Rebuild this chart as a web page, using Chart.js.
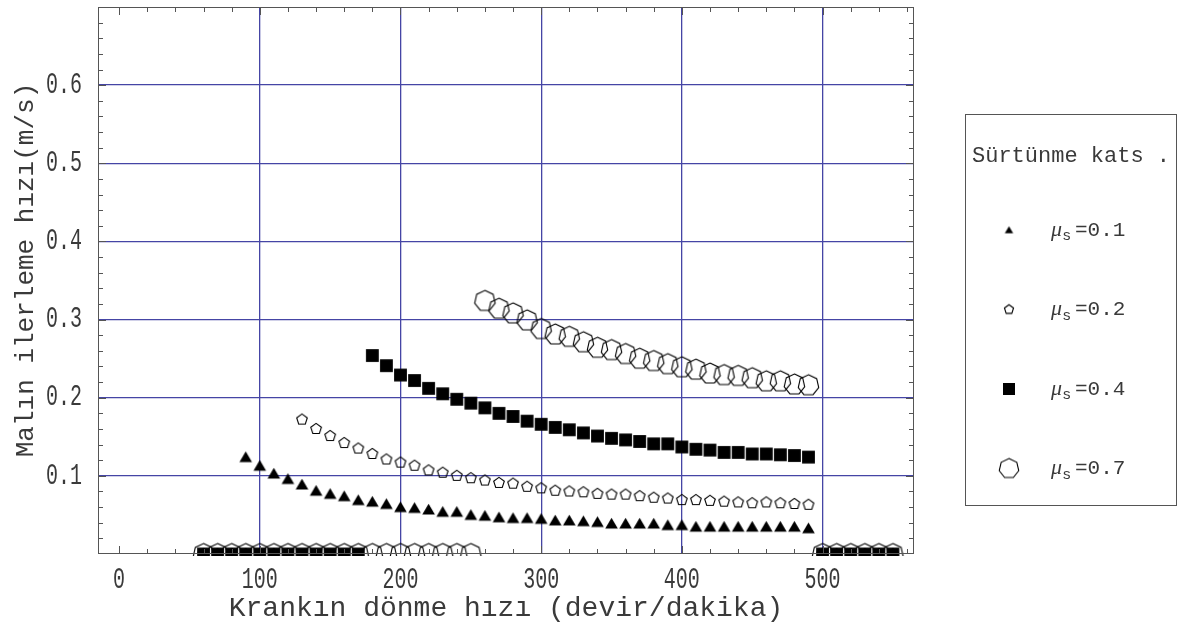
<!DOCTYPE html>
<html>
<head>
<meta charset="utf-8">
<script src="https://cdn.jsdelivr.net/npm/chart.js@4.4.1/dist/chart.umd.min.js"></script>
<style>
  html, body { margin: 0; padding: 0; background: #fff; }
  canvas { display: block; }
</style>
</head>
<body>
<canvas id="chart" width="1179" height="632"></canvas>
<script>
// krank devri (devir/dakika)
const rpm = [60, 70, 80, 90, 100, 110, 120, 130, 140, 150, 160, 170, 180, 190, 200, 210, 220, 230, 240, 250,
  260, 270, 280, 290, 300, 310, 320, 330, 340, 350, 360, 370, 380, 390, 400, 410, 420, 430, 440, 450,
  460, 470, 480, 490, 500, 510, 520, 530, 540, 550]

// malin ilerleme hizi (m/s), one per friction coefficient
const hizMu01 = [0, 0, 0, 0.124, 0.113, 0.103, 0.096, 0.089, 0.081, 0.077, 0.074, 0.069, 0.067, 0.064, 0.060, 0.059, 0.057, 0.054, 0.054, 0.050,
  0.049, 0.047, 0.046, 0.046, 0.045, 0.043, 0.043, 0.042, 0.041, 0.039, 0.039, 0.039, 0.039, 0.037, 0.037, 0.035, 0.035, 0.035, 0.035, 0.035,
  0.035, 0.035, 0.035, 0.033, 0, 0, 0, 0, 0, 0]
const hizMu02 = [0, 0, 0, 0, 0, 0, 0, 0.172, 0.160, 0.151, 0.142, 0.135, 0.128, 0.121, 0.117, 0.113, 0.107, 0.104, 0.100, 0.097,
  0.094, 0.091, 0.090, 0.086, 0.084, 0.081, 0.080, 0.079, 0.077, 0.076, 0.076, 0.074, 0.072, 0.071, 0.069, 0.069, 0.068, 0.067, 0.066, 0.065,
  0.066, 0.065, 0.064, 0.063, 0, 0, 0, 0, 0, 0]
const hizMu04 = [0, 0, 0, 0, 0, 0, 0, 0, 0, 0, 0, 0, 0.254, 0.241, 0.229, 0.222, 0.212, 0.205, 0.198, 0.193,
  0.187, 0.180, 0.176, 0.170, 0.166, 0.162, 0.159, 0.155, 0.151, 0.148, 0.146, 0.144, 0.141, 0.141, 0.137, 0.134, 0.133, 0.130, 0.130, 0.128,
  0.128, 0.127, 0.126, 0.124, 0, 0, 0, 0, 0, 0]
const hizMu07 = [0, 0, 0, 0, 0, 0, 0, 0, 0, 0, 0, 0, 0, 0, 0, 0, 0, 0, 0, 0,
  0.324, 0.314, 0.308, 0.299, 0.288, 0.281, 0.278, 0.271, 0.264, 0.261, 0.256, 0.250, 0.247, 0.243, 0.239, 0.236, 0.231, 0.229, 0.228, 0.225,
  0.221, 0.221, 0.217, 0.216, 0, 0, 0, 0, 0, 0]

const muLabels = ['0.1', '0.2', '0.4', '0.7']
const xTickLabels = [0, 100, 200, 300, 400, 500]
const yTickLabels = [0.1, 0.2, 0.3, 0.4, 0.5, 0.6]
const xGrid = [100, 200, 300, 400, 500]
const yGrid = [0.1, 0.2, 0.3, 0.4, 0.5, 0.6]

const FONT = '"Liberation Mono", "DejaVu Sans Mono", monospace'

// marker glyphs drawn onto small canvases
function marker(kind, r) {
  const size = Math.ceil(r * 2 + 4)
  const c = document.createElement('canvas')
  c.width = size
  c.height = size
  const g = c.getContext('2d')
  const m = size / 2
  g.fillStyle = '#000'
  g.strokeStyle = '#000'
  g.lineWidth = 1.1
  if (kind === 'triangle') {
    g.beginPath()
    g.moveTo(m, m - r * 0.9)
    g.lineTo(m + r, m + r * 0.8)
    g.lineTo(m - r, m + r * 0.8)
    g.closePath()
    g.fill()
  } else if (kind === 'square') {
    g.fillRect(m - r, m - r, r * 2, r * 2)
  } else {
    const n = kind === 'pentagon' ? 5 : 7
    g.beginPath()
    for (let i = 0; i < n; i++) {
      const a = -Math.PI / 2 + i * 2 * Math.PI / n
      const px = m + r * Math.cos(a)
      const py = m + r * Math.sin(a)
      if (i === 0) g.moveTo(px, py)
      else g.lineTo(px, py)
    }
    g.closePath()
    g.stroke()
  }
  return c
}

const plotMarkers = [marker('triangle', 6.3), marker('pentagon', 5.6), marker('square', 6.4), marker('heptagon', 10.5)]
const legendMarkers = [marker('triangle', 4.2), marker('pentagon', 4.8), marker('square', 6), marker('heptagon', 10)]
const series = [hizMu01, hizMu02, hizMu04, hizMu07]

function stretchedText(ctx, text, x, y, align) {
  ctx.save()
  ctx.translate(x, y)
  ctx.scale(1, 1.45)
  ctx.textAlign = align
  ctx.textBaseline = 'middle'
  ctx.fillText(text, 0, 0)
  ctx.restore()
}

const frame = {
  id: 'frame',
  afterDraw(chart) {
    const { ctx, chartArea: a, scales } = chart
    const xs = scales.x, ys = scales.y
    ctx.save()
    // box
    ctx.strokeStyle = '#555'
    ctx.lineWidth = 1
    ctx.strokeRect(a.left + 0.5, a.top + 0.5, a.right - a.left - 1, a.bottom - a.top - 1)
    // inner ticks, all four sides
    ctx.beginPath()
    for (let v = 0; v <= 560; v += 20) {
      const px = Math.round(xs.getPixelForValue(v)) + 0.5
      const len = v % 100 === 0 ? 8 : 5
      ctx.moveTo(px, a.bottom); ctx.lineTo(px, a.bottom - len)
      ctx.moveTo(px, a.top); ctx.lineTo(px, a.top + len)
    }
    for (let k = 1; k <= 34; k++) {
      const v = k * 0.02
      const py = Math.round(ys.getPixelForValue(v)) + 0.5
      const len = k % 5 === 0 ? 8 : 5
      ctx.moveTo(a.left, py); ctx.lineTo(a.left + len, py)
      ctx.moveTo(a.right, py); ctx.lineTo(a.right - len, py)
    }
    ctx.stroke()

    // tick labels
    ctx.fillStyle = '#3a3a3a'
    ctx.font = '20px ' + FONT
    xTickLabels.forEach(v => stretchedText(ctx, String(v), xs.getPixelForValue(v), a.bottom + 26, 'center'))
    yTickLabels.forEach(v => stretchedText(ctx, v.toFixed(1), a.left - 16, ys.getPixelForValue(v), 'right'))

    // axis titles
    ctx.font = '28px ' + FONT
    ctx.textAlign = 'center'
    ctx.textBaseline = 'middle'
    ctx.fillText('Krankın dönme hızı (devir/dakika)', (a.left + a.right) / 2, 609)
    ctx.save()
    ctx.translate(26, 270)
    ctx.rotate(-Math.PI / 2)
    ctx.font = '26px ' + FONT
    ctx.fillText('Malın ilerleme hızı(m/s)', 0, 0)
    ctx.restore()

    // legend
    ctx.strokeStyle = '#555'
    ctx.strokeRect(965.5, 114.5, 211, 391)
    ctx.textAlign = 'left'
    ctx.font = '22px ' + FONT
    ctx.fillText('Sürtünme kats .', 972, 156)
    muLabels.forEach((lab, i) => {
      const cy = 230 + i * 79.5
      const mk = legendMarkers[i]
      ctx.drawImage(mk, 1009 - mk.width / 2, cy - mk.height / 2)
      ctx.font = 'italic 22px "Liberation Serif", serif'
      ctx.fillText('μ', 1051, cy)
      ctx.font = '15px "Liberation Sans", sans-serif'
      ctx.fillText('s', 1063, cy + 6)
      ctx.font = '21px ' + FONT
      ctx.fillText('=' + lab, 1075, cy)
    })
    ctx.restore()
  }
}

new Chart(document.getElementById('chart').getContext('2d'), {
  type: 'scatter',
  data: {
    datasets: series.map((vals, i) => ({
      label: 'μs=' + muLabels[i],
      data: rpm.map((x, j) => ({ x: x, y: vals[j] })),
      pointStyle: plotMarkers[i],
      pointRadius: 6,
      order: 3 - i,
      clip: { left: 0, top: 0, right: 0, bottom: 2 },
    })),
  },
  options: {
    responsive: false,
    animation: false,
    events: [],
    layout: { padding: { left: 98, right: 265, top: 6, bottom: 78 } },
    plugins: { legend: { display: false }, tooltip: { enabled: false } },
    scales: {
      x: {
        type: 'linear',
        min: -15,
        max: 565,
        afterBuildTicks: s => { s.ticks = xGrid.map(v => ({ value: v })) },
        ticks: { display: false },
        grid: { color: '#4545a5', lineWidth: 1.3, drawTicks: false },
        border: { display: false },
      },
      y: {
        min: 0,
        max: 0.7,
        afterBuildTicks: s => { s.ticks = yGrid.map(v => ({ value: v })) },
        ticks: { display: false },
        grid: { color: '#4545a5', lineWidth: 1.3, drawTicks: false },
        border: { display: false },
      },
    },
  },
  plugins: [frame],
})
</script>
</body>
</html>
